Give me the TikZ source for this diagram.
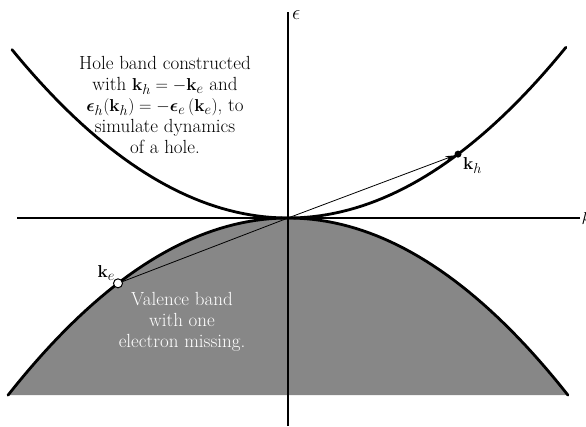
\documentclass[tikz,border=0pt]{standalone}
\usepackage{amsmath,amssymb,bm}
\usepackage{xcolor}
\usepackage{tikz}
\usetikzlibrary{arrows.meta,positioning}
\definecolor{BandGray}{HTML}{878787}

\begin{document}
\begin{tikzpicture}[x=1pt,y=-1pt,
  band/.style={line width=2.8pt,draw=black,line cap=round},
  axis/.style={line width=1.1pt,draw=black},
  vec/.style={line width=0.8pt,draw=black},
  arr/.style={vec,-{Stealth[length=9pt,width=5pt]}},
  txt/.style={font=\fontsize{19}{21}\selectfont,align=center},
  hole/.style={circle,draw=black,line width=1pt,fill=white,inner sep=0pt,minimum size=9pt},
  elec/.style={circle,fill=black,inner sep=0pt,minimum size=7pt}
]
\useasboundingbox (0,0) rectangle (586,426);
\coordinate (o) at (288,218);
\coordinate (kleft) at (17,218);
\coordinate (kright) at (580,218);
\coordinate (ebot) at (288,426);
\coordinate (etop) at (288,12);

\fill[BandGray] plot[domain=-2.8:2.8,samples=80] ({288+100*\x},{218+22.6*\x*\x}) -- cycle;

\draw[axis] (kleft) -- (kright) node[right,txt,inner sep=1pt] (klab) {$k$};
\draw[axis] (ebot) -- (etop);
\node[anchor=north west,font=\fontsize{21}{24}\selectfont,inner sep=1pt] (elab) at (291,9) {$\epsilon$};

\draw[band] plot[domain=-2.76:2.78,samples=80] ({288+100*\x},{218-22.1*\x*\x});
\draw[band] plot[domain=-2.8:2.8,samples=80] ({288+100*\x},{218+22.6*\x*\x});

\node[hole] (ke) at ({288-170},{218+22.6*1.7*1.7}) {};
\node[elec] (kh) at ({288+170},{218-22.1*1.7*1.7}) {};
\node[txt,above left=-4pt and -4pt of ke] (kelab) {$\mathbf{k}_e$};
\node[txt,below right=-3pt and -1pt of kh] (khlab) {$\mathbf{k}_h$};

\draw[vec] (o) -- (ke);
\draw[arr] (o) -- (kh);

\node[txt] (holetext) at (165,105) {Hole band constructed\\
  with $\mathbf{k}_h = -\mathbf{k}_e$ and\\
  $\bm{\epsilon}_h(\mathbf{k}_h) = -\bm{\epsilon}_e\,(\mathbf{k}_e)$, to\\
  simulate dynamics\\
  of a hole.};
\node[txt,text=white] (valtext) at (182,322) {Valence band\\with one\\electron missing.};
\end{tikzpicture}
\end{document}
